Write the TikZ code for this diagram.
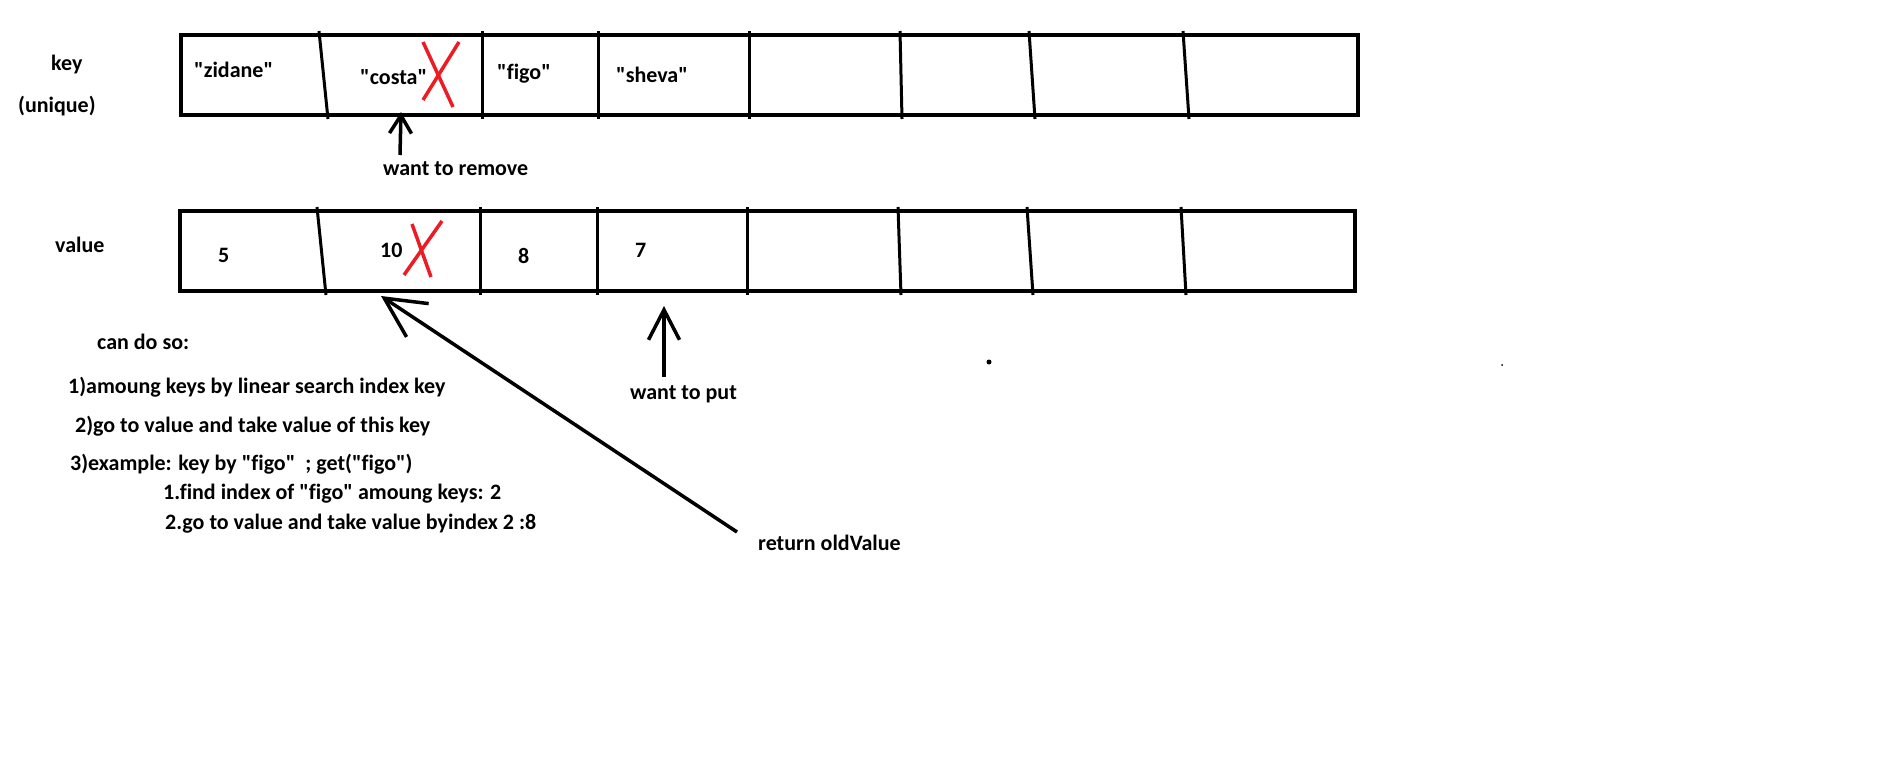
\documentclass[tikz,border=0pt]{standalone}
\usepackage{fontspec}
\setmainfont[Ligatures=NoCommon]{Carlito}
\usetikzlibrary{arrows.meta}
\definecolor{paintred}{RGB}{237,28,36}
\newcommand{\dq}{\textquotedbl}
\tikzset{
  lbl/.style={anchor=base west, inner sep=0pt, font=\bfseries\fontsize{22}{26}\selectfont},
  box/.style={line width=4.5pt},
  cut/.style={line width=3pt},
  cross/.style={paintred, line width=3.5pt},
  pointer/.style={line width=3.5pt}
}
\begin{document}
\begin{tikzpicture}[x=1pt, y=-1pt]
    \useasboundingbox (0,0) rectangle (1892,762);

    % Draw the two arrays
    \draw[box] (181,35) rectangle (1358,115);
    \draw[box] (180,211) rectangle (1355,291);
    \foreach \t/\b in {319/328, 482/482, 598/598, 749/749, 900/902, 1029/1035, 1183/1189}
        \draw[cut] (\t,31) -- (\b,119);
    \foreach \t/\b in {317/326, 480/480, 597/597, 747/747, 898/901, 1027/1033, 1181/1186}
        \draw[cut] (\t,207) -- (\b,295);

    % Row labels
    \node[lbl] (keylbl) at (51,71) {key};
    \node[lbl] (uniq) at (18,113) {(unique)};
    \node[lbl] (vallbl) at (55,252) {value};

    % Keys
    \node[lbl] (k0) at (194,78) {\dq zidane\dq};
    \node[lbl] (k1) at (360,85) {\dq costa\dq};
    \node[lbl] (k2) at (497,80) {\dq figo\dq};
    \node[lbl] (k3) at (616,83) {\dq sheva\dq};

    % Values
    \node[lbl] (v0) at (218,262) {5};
    \node[lbl] (v1) at (380,257) {10};
    \node[lbl] (v2) at (518,263) {8};
    \node[lbl] (v3) at (635,257) {7};

    % Crossed out entries
    \draw[cross] (423,42) -- (453,107);
    \draw[cross] (459,42) -- (423,100);
    \draw[cross] (442,221) -- (404,275);
    \draw[cross] (412,224) -- (431,277);

    % Notes
    \node[lbl] (rm) at (383,176) {want to remove};
    \node[lbl] (put) at (630,399) {want to put};
    \node[lbl] (ret) at (758,550) {return oldValue};
    \node[lbl] (howto) at (97,349) {can do so:};
    \node[lbl] (s1) at (68,393) {1)amoung keys by linear search index key};
    \node[lbl] (s2) at (75,432) {2)go to value and take value of this key};
    \node[lbl] (s3) at (70,470) {3)example: key by \dq figo\dq\ \ ; get(\dq figo\dq)};
    \node[lbl] (s31) at (163,499) {1.find index of \dq figo\dq\ amoung keys: 2};
    \node[lbl] (s32) at (165,529) {2.go to value and take value byindex 2 :8};

    % Arrows
    \coordinate (rmtail) at (400,155);
    \coordinate (rmtip) at (401,112);
    \coordinate (puttail) at (664,377);
    \coordinate (puttip) at (664,306);
    \coordinate (rettail) at (737,532);
    \coordinate (rettip) at (381,296);
    \draw[pointer, -{Straight Barb[length=18pt, width=22pt]}] (rmtail) -- (rmtip);
    \draw[pointer, -{Straight Barb[length=30pt, width=31pt]}] (puttail) -- (puttip);
    \draw[pointer, -{Straight Barb[length=40pt, width=40pt]}] (rettail) -- (rettip);

    % Stray dots
    \fill (989,362) circle (2.5);
    \fill (1502,365) circle (1);
\end{tikzpicture}
\end{document}
